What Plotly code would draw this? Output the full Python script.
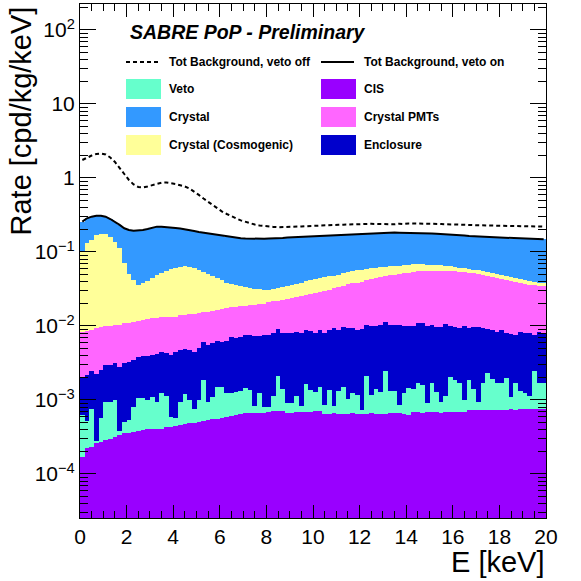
import numpy as np
import plotly.graph_objects as go

# 100 bins of 0.2 keV between 0 and 20 keV
bin_width = 0.2
energy = np.round(np.arange(100) * bin_width + bin_width / 2, 2)

# Stacked histogram levels (cumulative, bottom -> top), cpd/kg/keV
stack_cis = [
    1.71e-4, 2.23e-4, 2.34e-4, 2.60e-4, 2.73e-4, 2.88e-4, 2.94e-4, 3.13e-4, 3.37e-4, 3.55e-4,
    3.61e-4, 3.73e-4, 3.85e-4, 3.93e-4, 4.01e-4, 4.01e-4, 4.09e-4, 4.09e-4, 4.28e-4, 4.36e-4,
    4.50e-4, 4.59e-4, 4.74e-4, 4.84e-4, 4.93e-4, 5.09e-4, 5.25e-4, 5.37e-4, 5.48e-4, 5.59e-4,
    5.66e-4, 5.83e-4, 6.08e-4, 6.27e-4, 6.47e-4, 6.57e-4, 6.61e-4, 6.61e-4, 6.61e-4, 6.68e-4,
    6.78e-4, 7.00e-4, 7.10e-4, 7.10e-4, 6.74e-4, 6.74e-4, 6.78e-4, 6.78e-4, 6.78e-4, 6.89e-4,
    7.10e-4, 7.00e-4, 6.47e-4, 6.37e-4, 6.57e-4, 6.47e-4, 6.37e-4, 6.47e-4, 6.57e-4, 6.47e-4,
    6.37e-4, 6.47e-4, 6.57e-4, 6.47e-4, 6.37e-4, 6.47e-4, 6.61e-4, 6.61e-4, 6.61e-4, 6.47e-4,
    6.18e-4, 6.82e-4, 6.89e-4, 6.74e-4, 6.82e-4, 6.89e-4, 6.82e-4, 6.74e-4, 6.82e-4, 6.89e-4,
    6.82e-4, 6.78e-4, 6.89e-4, 7.22e-4, 7.33e-4, 7.33e-4, 7.27e-4, 7.33e-4, 7.40e-4, 7.33e-4,
    7.33e-4, 7.40e-4, 7.45e-4, 7.40e-4, 7.45e-4, 7.51e-4, 7.45e-4, 7.51e-4, 7.56e-4, 7.51e-4,
]
stack_veto = [
    6.27e-4, 5.21e-4, 7.56e-4, 2.82e-4, 5.71e-4, 9.40e-4, 9.34e-4, 9.84e-4, 3.85e-4, 5.05e-4,
    5.37e-4, 7.92e-4, 1.048e-3, 1.048e-3, 9.91e-4, 1.098e-3, 9.46e-4, 1.232e-3, 1.122e-3, 5.95e-4,
    5.66e-4, 9.25e-4, 1.205e-3, 1.0e-3, 7.63e-4, 1.0e-3, 1.862e-3, 9.48e-4, 1.108e-3, 1.490e-3,
    1.508e-3, 1.232e-3, 1.255e-3, 1.263e-3, 1.336e-3, 1.452e-3, 1.365e-3, 8.30e-4, 1.232e-3, 8.12e-4,
    7.92e-4, 1.132e-3, 2.11e-3, 1.408e-3, 9.11e-4, 9.11e-4, 1.132e-3, 8.30e-4, 1.62e-3, 1.352e-3,
    1.263e-3, 1.475e-3, 8.56e-4, 1.378e-3, 8.35e-4, 1.303e-3, 1.484e-3, 1.025e-3, 1.255e-3, 1.150e-3,
    7.26e-4, 2.124e-3, 1.168e-3, 1.408e-3, 1.263e-3, 2.481e-3, 1.315e-3, 1.336e-3, 8.56e-4, 1.255e-3,
    1.452e-3, 1.408e-3, 1.697e-3, 1.595e-3, 9.19e-4, 1.714e-3, 1.295e-3, 9.48e-4, 1.132e-3, 2.027e-3,
    1.862e-3, 1.681e-3, 1.0e-3, 1.862e-3, 1.395e-3, 9.48e-4, 1.681e-3, 2.338e-3, 1.904e-3, 1.681e-3,
    1.714e-3, 1.964e-3, 1.088e-3, 1.681e-3, 1.336e-3, 1.232e-3, 1.143e-3, 2.465e-3, 1.714e-3, 1.681e-3,
]
stack_enclosure = [
    1.97e-3, 2.18e-3, 2.49e-3, 2.25e-3, 2.55e-3, 2.97e-3, 2.97e-3, 3.19e-3, 2.82e-3, 3.13e-3,
    3.29e-3, 3.47e-3, 3.85e-3, 3.93e-3, 3.93e-3, 4.06e-3, 4.19e-3, 4.49e-3, 4.28e-3, 4.06e-3,
    4.49e-3, 4.74e-3, 4.84e-3, 4.74e-3, 4.49e-3, 5.00e-3, 6.14e-3, 5.54e-3, 5.95e-3, 6.33e-3,
    6.14e-3, 6.33e-3, 7.03e-3, 6.82e-3, 7.03e-3, 7.56e-3, 7.56e-3, 7.33e-3, 7.33e-3, 7.56e-3,
    7.56e-3, 7.97e-3, 9.02e-3, 8.12e-3, 7.97e-3, 7.97e-3, 8.38e-3, 8.12e-3, 8.83e-3, 8.56e-3,
    8.12e-3, 8.83e-3, 8.12e-3, 8.83e-3, 9.31e-3, 8.83e-3, 9.60e-3, 9.31e-3, 9.31e-3, 8.83e-3,
    9.02e-3, 1.032e-2, 1.00e-2, 1.00e-2, 1.032e-2, 1.122e-2, 1.032e-2, 1.032e-2, 1.032e-2, 1.00e-2,
    1.00e-2, 1.00e-2, 1.088e-2, 1.088e-2, 1.00e-2, 1.022e-2, 9.79e-3, 9.79e-3, 1.064e-2, 1.00e-2,
    9.79e-3, 9.49e-3, 1.00e-2, 9.31e-3, 9.79e-3, 9.79e-3, 9.31e-3, 9.02e-3, 8.83e-3, 8.38e-3,
    8.83e-3, 8.12e-3, 7.80e-3, 7.56e-3, 8.38e-3, 8.12e-3, 8.04e-3, 7.56e-3, 8.30e-3, 8.04e-3,
]
stack_pmts = [
    8.38e-3, 8.56e-3, 8.83e-3, 9.31e-3, 9.60e-3, 1.00e-2, 1.00e-2, 1.032e-2, 1.032e-2, 1.088e-2,
    1.108e-2, 1.132e-2, 1.179e-2, 1.205e-2, 1.232e-2, 1.271e-2, 1.271e-2, 1.311e-2, 1.311e-2, 1.336e-2,
    1.336e-2, 1.408e-2, 1.408e-2, 1.439e-2, 1.439e-2, 1.484e-2, 1.561e-2, 1.561e-2, 1.595e-2, 1.645e-2,
    1.681e-2, 1.734e-2, 1.789e-2, 1.806e-2, 1.862e-2, 1.880e-2, 1.904e-2, 1.922e-2, 1.964e-2, 2.00e-2,
    2.09e-2, 2.16e-2, 2.20e-2, 2.25e-2, 2.32e-2, 2.37e-2, 2.46e-2, 2.54e-2, 2.62e-2, 2.71e-2,
    2.76e-2, 2.85e-2, 2.94e-2, 3.07e-2, 3.23e-2, 3.33e-2, 3.51e-2, 3.66e-2, 3.78e-2, 3.85e-2,
    3.98e-2, 4.16e-2, 4.28e-2, 4.45e-2, 4.59e-2, 4.74e-2, 4.87e-2, 4.93e-2, 5.05e-2, 5.16e-2,
    5.26e-2, 5.43e-2, 5.50e-2, 5.54e-2, 5.60e-2, 5.60e-2, 5.60e-2, 5.60e-2, 5.58e-2, 5.54e-2,
    5.50e-2, 5.37e-2, 5.29e-2, 5.21e-2, 5.13e-2, 5.05e-2, 4.89e-2, 4.74e-2, 4.56e-2, 4.45e-2,
    4.32e-2, 4.19e-2, 4.06e-2, 3.93e-2, 3.83e-2, 3.73e-2, 3.63e-2, 3.56e-2, 3.51e-2, 3.47e-2,
]
stack_cosmogenic = [
    1.01e-1, 1.31e-1, 1.45e-1, 1.70e-1, 1.75e-1, 1.73e-1, 1.58e-1, 1.38e-1, 1.12e-1, 7.03e-2,
    5.05e-2, 4.19e-2, 3.58e-2, 3.78e-2, 4.10e-2, 4.41e-2, 4.89e-2, 5.25e-2, 5.59e-2, 5.84e-2,
    6.02e-2, 6.33e-2, 6.47e-2, 6.33e-2, 6.02e-2, 5.71e-2, 5.42e-2, 5.05e-2, 4.74e-2, 4.41e-2,
    4.19e-2, 3.85e-2, 3.70e-2, 3.58e-2, 3.47e-2, 3.37e-2, 3.26e-2, 3.19e-2, 3.13e-2, 3.07e-2,
    3.07e-2, 3.16e-2, 3.26e-2, 3.40e-2, 3.50e-2, 3.61e-2, 3.73e-2, 3.85e-2, 4.02e-2, 4.19e-2,
    4.32e-2, 4.45e-2, 4.59e-2, 4.74e-2, 4.79e-2, 4.94e-2, 5.16e-2, 5.32e-2, 5.49e-2, 5.66e-2,
    5.76e-2, 5.90e-2, 6.02e-2, 6.14e-2, 6.21e-2, 6.33e-2, 6.39e-2, 6.43e-2, 6.47e-2, 6.61e-2,
    6.74e-2, 6.84e-2, 6.89e-2, 6.82e-2, 6.74e-2, 6.68e-2, 6.68e-2, 6.63e-2, 6.53e-2, 6.41e-2,
    6.27e-2, 6.12e-2, 5.99e-2, 5.90e-2, 5.76e-2, 5.63e-2, 5.50e-2, 5.32e-2, 5.12e-2, 5.00e-2,
    4.84e-2, 4.74e-2, 4.59e-2, 4.45e-2, 4.32e-2, 4.16e-2, 4.06e-2, 3.93e-2, 3.83e-2, 3.75e-2,
]
# top of the stack == total background with veto on
stack_crystal = [
    2.57e-1, 2.85e-1, 3.00e-1, 3.09e-1, 3.09e-1, 3.00e-1, 2.79e-1, 2.56e-1, 2.32e-1, 2.09e-1,
    1.98e-1, 1.94e-1, 1.94e-1, 1.98e-1, 2.04e-1, 2.13e-1, 2.20e-1, 2.20e-1, 2.18e-1, 2.16e-1,
    2.11e-1, 2.07e-1, 2.03e-1, 1.98e-1, 1.92e-1, 1.86e-1, 1.82e-1, 1.79e-1, 1.73e-1, 1.70e-1,
    1.66e-1, 1.61e-1, 1.58e-1, 1.55e-1, 1.53e-1, 1.52e-1, 1.51e-1, 1.50e-1, 1.50e-1, 1.51e-1,
    1.52e-1, 1.52e-1, 1.54e-1, 1.55e-1, 1.57e-1, 1.58e-1, 1.59e-1, 1.61e-1, 1.62e-1, 1.63e-1,
    1.64e-1, 1.66e-1, 1.67e-1, 1.69e-1, 1.70e-1, 1.71e-1, 1.72e-1, 1.74e-1, 1.75e-1, 1.77e-1,
    1.78e-1, 1.79e-1, 1.80e-1, 1.81e-1, 1.82e-1, 1.83e-1, 1.83e-1, 1.83e-1, 1.82e-1, 1.82e-1,
    1.81e-1, 1.81e-1, 1.80e-1, 1.80e-1, 1.79e-1, 1.78e-1, 1.76e-1, 1.75e-1, 1.73e-1, 1.72e-1,
    1.70e-1, 1.68e-1, 1.67e-1, 1.64e-1, 1.63e-1, 1.61e-1, 1.59e-1, 1.58e-1, 1.57e-1, 1.56e-1,
    1.55e-1, 1.53e-1, 1.52e-1, 1.51e-1, 1.50e-1, 1.50e-1, 1.49e-1, 1.49e-1, 1.48e-1, 1.48e-1,
]
total_veto_off = [
    1.75, 1.89, 2.01, 2.11, 2.14, 2.08, 1.89, 1.645, 1.387, 1.132,
    0.940, 0.817, 0.756, 0.744, 0.768, 0.804, 0.843, 0.864, 0.869, 0.856,
    0.830, 0.797, 0.768, 0.721, 0.657, 0.590, 0.528, 0.474, 0.425, 0.387,
    0.352, 0.326, 0.302, 0.284, 0.267, 0.255, 0.244, 0.235, 0.228, 0.223,
    0.220, 0.218, 0.216, 0.216, 0.218, 0.219, 0.220, 0.221, 0.223, 0.225,
    0.226, 0.228, 0.229, 0.232, 0.232, 0.233, 0.234, 0.236, 0.237, 0.237,
    0.238, 0.239, 0.240, 0.239, 0.237, 0.240, 0.239, 0.237, 0.241, 0.239,
    0.243, 0.243, 0.243, 0.243, 0.243, 0.242, 0.240, 0.239, 0.237, 0.237,
    0.235, 0.234, 0.233, 0.232, 0.230, 0.229, 0.228, 0.228, 0.227, 0.226,
    0.225, 0.225, 0.224, 0.223, 0.223, 0.222, 0.221, 0.221, 0.221, 0.220,
]

COLORS = {
    "Veto": "#66FFCC",
    "Crystal": "#3399FF",
    "Crystal (Cosmogenic)": "#FFFF99",
    "CIS": "#9900FF",
    "Crystal PMTs": "#FF66FF",
    "Enclosure": "#0000CC",
}

# drawn ROOT-style: cumulative histograms from the top of the stack down
layers = [
    ("Crystal", stack_crystal),
    ("Crystal (Cosmogenic)", stack_cosmogenic),
    ("Crystal PMTs", stack_pmts),
    ("Enclosure", stack_enclosure),
    ("Veto", stack_veto),
    ("CIS", stack_cis),
]

FONT = "Liberation Sans, Arial, sans-serif"
W, H = 581, 581
L, R, T, B = 80, 35, 4, 63


def px(x):
    return (x - L) / (W - L - R)


def py(y):
    return (H - B - y) / (H - T - B)


fig = go.Figure()
for name, vals in layers:
    fig.add_trace(go.Bar(
        x=energy, y=vals, width=bin_width, name=name,
        marker=dict(color=COLORS[name], line=dict(width=0)),
        showlegend=False,
    ))

fig.add_trace(go.Scatter(
    x=energy, y=total_veto_off, mode="lines", name="Tot Background, veto off",
    line=dict(color="black", width=2, dash="4px,3px"), showlegend=False,
))
fig.add_trace(go.Scatter(
    x=energy, y=stack_crystal, mode="lines", name="Tot Background, veto on",
    line=dict(color="black", width=2), showlegend=False,
))

# log axis ticks
y_tickvals = [1e-4, 1e-3, 1e-2, 1e-1, 1, 10, 100]
y_ticktext = ["10<sup>−4</sup>", "10<sup>−3</sup>", "10<sup>−2</sup>",
              "10<sup>−1</sup>", "1", "10", "10<sup>2</sup>"]
y_minor = [k * 10.0 ** e for e in range(-5, 3) for k in range(2, 10)]

fig.update_layout(
    width=W, height=H,
    margin=dict(l=L, r=R, t=T, b=B, autoexpand=False),
    paper_bgcolor="white", plot_bgcolor="white",
    barmode="overlay", bargap=0,
    font=dict(family=FONT, color="black", size=21),
    xaxis=dict(
        range=[0, 20], showgrid=False, zeroline=False, automargin=False,
        showline=True, linecolor="black", linewidth=1, mirror="ticks",
        ticks="inside", ticklen=13, tickcolor="black", tickwidth=1,
        tickmode="linear", tick0=0, dtick=2,
        minor=dict(ticks="inside", ticklen=7, tickcolor="black", dtick=0.5, tick0=0),
        tickfont=dict(size=21),
    ),
    yaxis=dict(
        type="log", range=[-4.595, 2.351], showgrid=False, zeroline=False, automargin=False,
        showline=True, linecolor="black", linewidth=1, mirror="ticks",
        ticks="inside", ticklen=16, tickcolor="black", tickwidth=1,
        tickmode="array", tickvals=y_tickvals, ticktext=y_ticktext,
        minor=dict(ticks="inside", ticklen=8, tickcolor="black", tickvals=y_minor),
        tickfont=dict(size=21),
    ),
)

annotations = [
    dict(text="Rate [cpd/kg/keV]", x=px(20), y=py(5), xanchor="center", yanchor="top",
         textangle=-90, font=dict(size=29)),
    dict(text="E [keV]", x=px(547), y=py(562), xanchor="right", yanchor="middle",
         font=dict(size=29)),
    dict(text="<b><i>SABRE PoP - Preliminary</i></b>", x=px(128), y=py(32),
         xanchor="left", yanchor="middle", font=dict(size=19.5)),
]
shapes = []

# legend, two columns
legend_rows = [
    [("line", "dash", "Tot Background, veto off"), ("line", "solid", "Tot Background, veto on")],
    [("box", "Veto", "Veto"), ("box", "CIS", "CIS")],
    [("box", "Crystal", "Crystal"), ("box", "Crystal PMTs", "Crystal PMTs")],
    [("box", "Crystal (Cosmogenic)", "Crystal (Cosmogenic)"), ("box", "Enclosure", "Enclosure")],
]
col_x = [126, 321]
row_y = [62, 89, 117, 145]
for r, row in enumerate(legend_rows):
    for c, (kind, style, label) in enumerate(row):
        x0 = col_x[c]
        yc = row_y[r]
        if kind == "line":
            shapes.append(dict(type="line", xref="paper", yref="paper",
                               x0=px(x0), x1=px(x0 + 33), y0=py(yc), y1=py(yc),
                               line=dict(color="black", width=2,
                                         dash="4px,3px" if style == "dash" else "solid")))
        else:
            shapes.append(dict(type="rect", xref="paper", yref="paper",
                               x0=px(x0), x1=px(x0 + 35), y0=py(yc - 10), y1=py(yc + 10),
                               fillcolor=COLORS[style], line=dict(width=0)))
        annotations.append(dict(text=f"<b>{label}</b>", x=px(x0 + 41), y=py(yc),
                                xanchor="left", yanchor="middle", font=dict(size=12)))

for a in annotations:
    a.update(xref="paper", yref="paper", showarrow=False)
fig.update_layout(annotations=annotations, shapes=shapes)

# drop the browser's default 8px body margin so the figure sits at the page origin
fig.write_html("out.html", config={"displayModeBar": False},
               post_script="document.body.style.margin = '0';")
